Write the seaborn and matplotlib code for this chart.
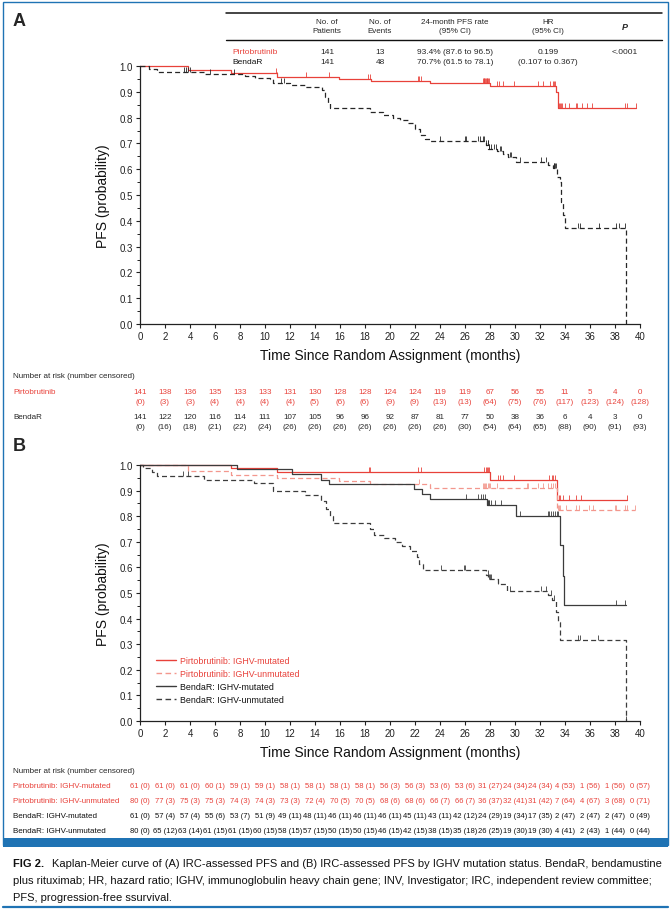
import numpy as np
import pandas as pd
import matplotlib
matplotlib.use("Agg")
import matplotlib.pyplot as plt
import matplotlib.transforms as mtransforms
from matplotlib.lines import Line2D
from matplotlib.patches import Rectangle
from matplotlib.path import Path
import seaborn as sns

# ---------------- data ----------------
months = list(range(0, 41, 2))

# Panel A: step curves (time, survival) and censor times
a_pirto_t = [0, 3.87, 7.25, 10.93, 15.95, 18.45, 23.2, 28.0, 33.3, 33.4, 39.65]
a_pirto_s = [1.0, 0.986, 0.971, 0.958, 0.951, 0.942, 0.935, 0.922, 0.900, 0.839, 0.839]
a_pirto_cens = [10.88, 10.99, 13.25, 15.1, 18.27, 18.4, 22.21, 22.35, 22.51, 27.41, 27.5,
                27.55, 27.62, 27.68, 27.74, 27.79, 27.85, 27.89, 28.59, 28.75, 29.01, 29.95,
                31.81, 32.27, 32.77, 33.01, 33.1, 33.17, 33.47, 33.52, 33.57, 33.65, 33.73,
                34.0, 34.32, 34.88, 34.96, 35.39, 35.79, 36.19, 38.8, 38.93, 39.65]

a_benda_t = [0, 0.7, 1.33, 5.12, 8.4, 9.2, 10.4, 10.67, 12.0, 13.2, 14.53, 14.8, 15.07, 15.2,
             18.4, 19.4, 20.27, 20.8, 21.47, 22.0, 22.4, 22.8, 23.2, 27.68, 27.87, 28.53,
             29.07, 29.47, 30.08, 32.67, 33.07, 33.33, 33.6, 33.68, 33.87, 34.0, 38.88]
a_benda_s = [1.0, 0.990, 0.977, 0.968, 0.960, 0.954, 0.948, 0.935, 0.926, 0.919, 0.906, 0.880,
             0.857, 0.839, 0.822, 0.809, 0.799, 0.790, 0.781, 0.757, 0.734, 0.718, 0.709,
             0.693, 0.680, 0.669, 0.658, 0.647, 0.628, 0.617, 0.605, 0.570, 0.551, 0.471,
             0.421, 0.372, 0.0]
a_benda_cens = [3.5, 3.7, 3.85, 4.0, 5.6, 7.5, 11.3, 11.5, 24.0, 26.0, 26.1, 27.07, 27.2,
                27.4, 27.55, 27.7, 27.8, 27.85, 27.9, 27.95, 28.1, 28.3, 28.5, 28.8, 28.9,
                29.6, 29.7, 30.4, 32.1, 32.5, 33.1, 33.15, 33.2, 33.25, 35.07, 35.2, 36.7,
                38.1, 38.3, 38.8]

# Panel B
b_pm_t = [0, 7.25, 10.93, 28.0, 33.33, 38.93]
b_pm_s = [1.0, 0.987, 0.971, 0.943, 0.864, 0.864]
b_pm_cens = [18.3, 18.4, 22.2, 22.5, 27.55, 27.65, 27.75, 27.85, 27.9, 28.6, 28.8, 29.0,
             29.95, 32.75, 32.95, 33.05, 33.2, 33.5, 33.6, 33.8, 34.3, 34.9, 35.3, 38.93]

b_pu_t = [0, 3.87, 7.25, 10.93, 15.95, 18.4, 23.2, 33.33, 39.6]
b_pu_s = [1.0, 0.975, 0.9625, 0.95, 0.9375, 0.925, 0.911, 0.826, 0.826]
b_pu_cens = [3.87, 22.35, 27.4, 27.5, 27.6, 27.7, 27.8, 27.9, 28.0, 28.53, 30.93, 31.07,
             31.87, 32.27, 32.67, 32.85, 33.0, 33.2, 33.4, 33.5, 33.6, 34.1, 34.9, 35.1,
             35.9, 36.2, 38.0, 38.1, 38.8, 38.93, 39.6]

b_bm_t = [0, 7.73, 12.13, 14.5, 15.1, 21.95, 22.53, 23.2, 27.75, 30.08, 33.6, 33.87, 33.95, 38.85]
b_bm_s = [1.0, 0.984, 0.965, 0.943, 0.924, 0.905, 0.886, 0.867, 0.842, 0.800, 0.686, 0.568,
          0.454, 0.454]
b_bm_cens = [26.1, 27.07, 27.3, 27.45, 27.6, 27.8, 27.85, 27.9, 27.95, 28.1, 28.4, 28.85,
             30.4, 32.6, 32.75, 32.9, 33.05, 33.2, 33.35, 33.47, 38.1, 38.8]

b_bu_t = [0, 0.2, 0.93, 1.33, 5.12, 9.12, 10.67, 13.2, 14.5, 14.9, 15.2, 15.4, 18.4, 18.7,
          19.5, 20.4, 20.93, 21.6, 22.13, 22.35, 22.67, 27.68, 27.87, 28.67, 29.33, 32.67,
          32.93, 33.28, 33.47, 33.63, 38.88]
b_bu_s = [1.0, 0.988, 0.974, 0.958, 0.943, 0.930, 0.898, 0.883, 0.86, 0.83, 0.80, 0.774,
          0.750, 0.727, 0.713, 0.700, 0.682, 0.665, 0.639, 0.614, 0.590, 0.571, 0.555,
          0.535, 0.507, 0.494, 0.474, 0.425, 0.385, 0.318, 0.0]
b_bu_cens = [3.4, 3.87, 24.05, 25.9, 26.0, 27.8, 27.9, 28.0, 28.1, 28.67, 29.6, 32.1, 32.5,
             32.85, 33.1, 35.07, 35.2, 36.67, 38.88]

# numbers at risk (number censored)
a_risk_pirto = [141, 138, 136, 135, 133, 133, 131, 130, 128, 128, 124, 124, 119, 119, 67, 56, 55, 11, 5, 4, 0]
a_cens_pirto = [0, 3, 3, 4, 4, 4, 4, 5, 6, 6, 9, 9, 13, 13, 64, 75, 76, 117, 123, 124, 128]
a_risk_benda = [141, 122, 120, 116, 114, 111, 107, 105, 96, 96, 92, 87, 81, 77, 50, 38, 36, 6, 4, 3, 0]
a_cens_benda = [0, 16, 18, 21, 22, 24, 26, 26, 26, 26, 26, 26, 26, 30, 54, 64, 65, 88, 90, 91, 93]

b_risk_pm = [61, 61, 61, 60, 59, 59, 58, 58, 58, 58, 56, 56, 53, 53, 31, 24, 24, 4, 1, 1, 0]
b_cens_pm = [0, 0, 0, 1, 1, 1, 1, 1, 1, 1, 3, 3, 6, 6, 27, 34, 34, 53, 56, 56, 57]
b_risk_pu = [80, 77, 75, 75, 74, 74, 73, 72, 70, 70, 68, 68, 66, 66, 36, 32, 31, 7, 4, 3, 0]
b_cens_pu = [0, 3, 3, 3, 3, 3, 3, 4, 5, 5, 6, 6, 7, 7, 37, 41, 42, 64, 67, 68, 71]
b_risk_bm = [61, 57, 57, 55, 53, 51, 49, 48, 46, 46, 46, 45, 43, 42, 24, 19, 17, 2, 2, 2, 0]
b_cens_bm = [0, 4, 4, 6, 7, 9, 11, 11, 11, 11, 11, 11, 11, 12, 29, 34, 35, 47, 47, 47, 49]
b_risk_bu = [80, 65, 63, 61, 61, 60, 58, 57, 50, 50, 46, 42, 38, 35, 26, 19, 19, 4, 2, 1, 0]
b_cens_bu = [0, 12, 14, 15, 15, 15, 15, 15, 15, 15, 15, 15, 15, 18, 25, 30, 30, 41, 43, 44, 44]

table_cols = ["No. of\nPatients", "No. of\nEvents", "24-month PFS rate\n(95% CI)", "HR\n(95% CI)"]
table_pirto = ["141", "13", "93.4% (87.6 to 96.5)", "0.199", "<.0001"]
table_benda = ["141", "48", "70.7% (61.5 to 78.1)", "(0.107 to 0.367)", ""]

caption = ["Kaplan-Meier curve of (A) IRC-assessed PFS and (B) IRC-assessed PFS by IGHV mutation status. BendaR, bendamustine",
           "plus rituximab; HR, hazard ratio; IGHV, immunoglobulin heavy chain gene; INV, Investigator; IRC, independent review committee;",
           "PFS, progression-free ssurvival."]

# ---------------- style ----------------
sns.set_theme(style="ticks")
plt.rcParams["font.family"] = ["Liberation Sans", "DejaVu Sans"]
NARROW = ["Liberation Sans Narrow", "Liberation Sans", "DejaVu Sans"]
RED = "#e8413a"
PINK = "#f3978d"
DARK = "#262626"
GREY = "#3c3c3c"
BLUE = "#1f73b4"

W, H = 672, 912
fig = plt.figure(figsize=(6.72, 9.12), dpi=100)


def fx(px):
    return px / W


def fy(py):
    return 1 - py / H


tick_up = Path([[0, 0], [0, 1]], [Path.MOVETO, Path.LINETO])


def km(ax, t, s, cens, color, ls, lw=0.9):
    sns.lineplot(x=t, y=s, ax=ax, drawstyle="steps-post", estimator=None, sort=False,
                 color=color, linestyle=ls, linewidth=lw, clip_on=False)
    t = np.asarray(t)
    s = np.asarray(s)
    c = np.asarray(cens)
    sc = s[np.searchsorted(t, c, side="right") - 1]
    ax.plot(c, sc, linestyle="none", marker=tick_up, markersize=7, markeredgewidth=0.6,
            color=color, clip_on=False)


def style_axes(ax):
    ax.set_xlim(0, 40)
    ax.set_ylim(0, 1.0)
    ax.set_xticks(months)
    ax.set_yticks(np.arange(0, 1.01, 0.1))
    ax.set_yticks(np.arange(0.05, 1.0, 0.1), minor=True)
    ax.set_yticklabels([f"{v:.1f}" for v in np.arange(0, 1.01, 0.1)])
    ax.tick_params(axis="both", which="major", labelsize=7, length=3, width=0.8,
                   direction="out", colors="#222222", pad=2)
    ax.tick_params(axis="y", which="minor", length=2, width=0.7, colors="#222222")
    sns.despine(ax=ax)
    for sp in ("left", "bottom"):
        ax.spines[sp].set_linewidth(0.9)
        ax.spines[sp].set_color("#222222")
    ax.set_xlabel("Time Since Random Assignment (months)", fontsize=10, family=NARROW,
                  labelpad=5, color="#111111")
    ax.set_ylabel("PFS (probability)", fontsize=10, family=NARROW, labelpad=7,
                  color="#111111")


# ---------------- panel A ----------------
axA = fig.add_axes([fx(140), fy(325), fx(640) - fx(140), fy(67) - fy(325)])
km(axA, a_pirto_t, a_pirto_s, a_pirto_cens, RED, "-")
km(axA, a_benda_t, a_benda_s, a_benda_cens, DARK, (0, (4, 2.5)))
style_axes(axA)

fig.text(fx(13), fy(22), "A", fontsize=13, fontweight="bold", va="center", ha="left")

# summary table
fig.add_artist(Line2D([fx(226), fx(662)], [fy(14), fy(14)], color="#111111", lw=1.1))
fig.add_artist(Line2D([fx(226), fx(662)], [fy(41), fy(41)], color="#111111", lw=1.0))
col_x = [327, 380, 455, 548, 625]
for x, lab in zip(col_x, table_cols):
    fig.text(fx(x), fy(27), lab, fontsize=5.8, ha="center", va="center", family=NARROW,
             linespacing=1.3)
fig.text(fx(col_x[4]), fy(27), "P", fontsize=6.5, ha="center", va="center",
         fontweight="bold", fontstyle="italic")
fig.text(fx(232), fy(52), "Pirtobrutinib", fontsize=6, color=RED, va="center", family=NARROW)
fig.text(fx(232), fy(63), "BendaR", fontsize=6, color="#111111", va="center", family=NARROW)
for x, a, b in zip(col_x, table_pirto, table_benda):
    fig.text(fx(x), fy(52), a, fontsize=6, ha="center", va="center", family=NARROW)
    fig.text(fx(x), fy(63), b, fontsize=6, ha="center", va="center", family=NARROW)

# numbers at risk A
trA = mtransforms.blended_transform_factory(axA.transData, fig.transFigure)
fig.text(fx(13), fy(377), "Number at risk (number censored)", fontsize=5.8, va="center",
         family=NARROW)
fig.text(fx(13), fy(393), "Pirtobrutinib", fontsize=5.8, va="center", color=RED, family=NARROW)
fig.text(fx(13), fy(418), "BendaR", fontsize=5.8, va="center", family=NARROW)
for m, n1, c1, n2, c2 in zip(months, a_risk_pirto, a_cens_pirto, a_risk_benda, a_cens_benda):
    fig.text(m, fy(393), str(n1), transform=trA, fontsize=5.8, ha="center", va="center",
             color=RED, family=NARROW)
    fig.text(m, fy(403), f"({c1})", transform=trA, fontsize=5.8, ha="center", va="center",
             color=RED, family=NARROW)
    fig.text(m, fy(418), str(n2), transform=trA, fontsize=5.8, ha="center", va="center",
             family=NARROW)
    fig.text(m, fy(428), f"({c2})", transform=trA, fontsize=5.8, ha="center", va="center",
             family=NARROW)

# ---------------- panel B ----------------
axB = fig.add_axes([fx(140), fy(722), fx(640) - fx(140), fy(466) - fy(722)])
km(axB, b_pm_t, b_pm_s, b_pm_cens, RED, "-")
km(axB, b_pu_t, b_pu_s, b_pu_cens, PINK, (0, (4, 2.5)))
km(axB, b_bm_t, b_bm_s, b_bm_cens, GREY, "-")
km(axB, b_bu_t, b_bu_s, b_bu_cens, GREY, (0, (4, 2.5)))
style_axes(axB)

fig.text(fx(13), fy(447), "B", fontsize=13, fontweight="bold", va="center", ha="left")

leg_labels = ["Pirtobrutinib: IGHV-mutated", "Pirtobrutinib: IGHV-unmutated",
              "BendaR: IGHV-mutated", "BendaR: IGHV-unmutated"]
leg_handles = [Line2D([], [], color=RED, lw=1.0),
               Line2D([], [], color=PINK, lw=1.0, ls=(0, (4, 2.5))),
               Line2D([], [], color=GREY, lw=1.0),
               Line2D([], [], color=GREY, lw=1.0, ls=(0, (4, 2.5)))]
leg = axB.legend(leg_handles, leg_labels, loc="upper left",
                 bbox_to_anchor=(fx(148), fy(649)), bbox_transform=fig.transFigure,
                 frameon=False, handlelength=2.2, handletextpad=0.5,
                 labelspacing=0.45, prop={"family": NARROW, "size": 6.4})
for txt, col in zip(leg.get_texts(), [RED, RED, "#111111", "#111111"]):
    txt.set_color(col)

# numbers at risk B
trB = mtransforms.blended_transform_factory(axB.transData, fig.transFigure)
fig.text(fx(13), fy(772), "Number at risk (number censored)", fontsize=5.8, va="center",
         family=NARROW)
rows_b = [(leg_labels[0], b_risk_pm, b_cens_pm, RED, 787),
          (leg_labels[1], b_risk_pu, b_cens_pu, RED, 802),
          (leg_labels[2], b_risk_bm, b_cens_bm, "#111111", 817),
          (leg_labels[3], b_risk_bu, b_cens_bu, "#111111", 832)]
for lab, nr, nc, col, yy in rows_b:
    fig.text(fx(13), fy(yy), lab, fontsize=5.8, va="center", color=col, family=NARROW)
    for m, n, c in zip(months, nr, nc):
        fig.text(m, fy(yy), f"{n} ({c})", transform=trB, fontsize=5.5, ha="center",
                 va="center", color=col, family=NARROW)

# ---------------- frame and caption ----------------
fig.add_artist(Rectangle((fx(3), fy(846)), fx(668) - fx(3), fy(3) - fy(846),
                         transform=fig.transFigure, fill=False, ec=BLUE, lw=1.0))
fig.add_artist(Rectangle((fx(3), fy(848)), fx(668) - fx(3), 9 / H,
                         transform=fig.transFigure, fill=True, fc=BLUE, ec="none"))
fig.add_artist(Line2D([fx(3), fx(668)], [fy(908), fy(908)], color=BLUE, lw=1.6))

fig.canvas.draw()
renderer = fig.canvas.get_renderer()
head = fig.text(fx(13), fy(864), "FIG 2.", fontsize=9, fontweight="bold", va="center",
                family=NARROW, color="#111111")
hb = head.get_window_extent(renderer)
x0 = hb.x1 + 4
t1 = fig.text(x0 / W, fy(864), caption[0], fontsize=9, va="center", family=NARROW,
              color="#111111")
# fit the first caption line to the right margin
w1 = t1.get_window_extent(renderer).width
fs = 9 * (662 - x0) / w1
t1.set_fontsize(fs)
head.set_fontsize(fs)
fig.text(fx(13), fy(881), caption[1], fontsize=fs, va="center", family=NARROW, color="#111111")
fig.text(fx(13), fy(898), caption[2], fontsize=fs, va="center", family=NARROW, color="#111111")

fig.savefig("out.png", dpi=100)
